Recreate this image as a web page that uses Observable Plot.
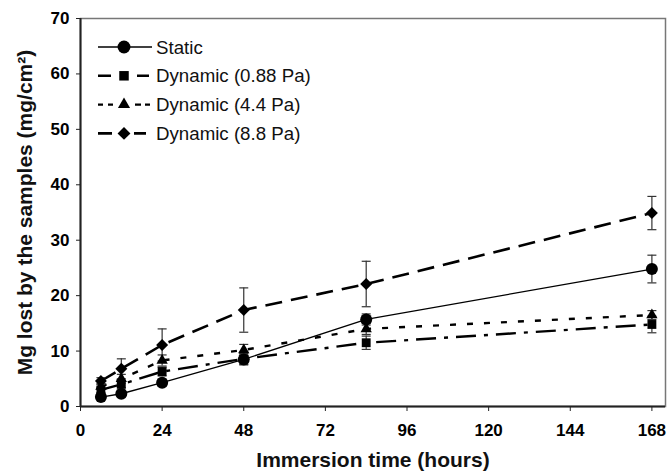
<!DOCTYPE html>
<html><head><meta charset="utf-8">
<script src="https://cdn.jsdelivr.net/npm/d3@7"></script>
<script src="https://cdn.jsdelivr.net/npm/@observablehq/plot@0.6"></script>
<style>body{margin:0;background:#fff} svg{display:block}</style>
</head><body><div id="chart"></div>
<script>
// ---- data ----
const hours = [6, 12, 24, 48, 84, 168];
const seriesNames = ["Static", "Dynamic (0.88 Pa)", "Dynamic (4.4 Pa)", "Dynamic (8.8 Pa)"];
const staticMg   = [1.7, 2.3, 4.3, 8.5, 15.7, 24.8];
const staticErr  = [0.5, 0.5, 0.6, 1.0, 1.0, 2.5];
const dyn088Mg   = [3.0, 4.0, 6.3, 8.6, 11.5, 14.8];
const dyn088Err  = [0.5, 0.6, 0.8, 1.0, 1.2, 1.5];
const dyn44Mg    = [3.6, 5.0, 8.3, 10.2, 14.0, 16.5];
const dyn44Err   = [0.5, 0.8, 1.0, 1.0, 1.0, 0.8];
const dyn88Mg    = [4.6, 6.8, 11.1, 17.4, 22.1, 34.9];
const dyn88Err   = [0.6, 1.8, 2.9, 4.0, 4.1, 3.0];
const xTicks = [0, 24, 48, 72, 96, 120, 144, 168];
const yTicks = [0, 10, 20, 30, 40, 50, 60, 70];
const xTitle = "Immersion time (hours)";
const yTitle = "Mg lost by the samples (mg/cm\u00B2)";

// ---- styles ----
const styles = [
  {symbol: "circle",   r: 6,   dash: null,        width: 1.3, legendDash: null},
  {symbol: "square",   r: 5,   dash: "20,8,4,8",  width: 2.4, legendDash: "13,26,12,100"},
  {symbol: "triangle", r: 4.2, dash: "6,11",      width: 2.4, legendDash: "5,5,5,22,6,4,5,100"},
  {symbol: "diamond2", r: 5.4, dash: "17,9",      width: 2.6, legendDash: "14,22,12,100"}
];

const values = [staticMg, dyn088Mg, dyn44Mg, dyn88Mg];
const errors = [staticErr, dyn088Err, dyn44Err, dyn88Err];
const rows = [];
seriesNames.forEach((s, i) => hours.forEach((h, j) => rows.push({series: s, idx: i, x: h, y: values[i][j], err: errors[i][j]})));

const capSymbol = {draw(ctx) { ctx.moveTo(-4.5, 0); ctx.lineTo(4.5, 0); }};

const marks = [];
seriesNames.forEach((s, i) => {
  const d = rows.filter(r => r.idx === i);
  marks.push(Plot.line(d, {x: "x", y: "y", stroke: "black", strokeWidth: styles[i].width,
    strokeDasharray: styles[i].dash || undefined, strokeLinecap: "butt"}));
});
marks.push(Plot.ruleX(rows, {x: "x", y1: d => d.y - d.err, y2: d => d.y + d.err, stroke: "#333", strokeWidth: 1.2}));
marks.push(Plot.dot(rows, {x: "x", y: d => d.y + d.err, symbol: capSymbol, stroke: "#333", strokeWidth: 1.2}));
marks.push(Plot.dot(rows, {x: "x", y: d => d.y - d.err, symbol: capSymbol, stroke: "#333", strokeWidth: 1.2}));
seriesNames.forEach((s, i) => {
  const d = rows.filter(r => r.idx === i);
  marks.push(Plot.dot(d, {x: "x", y: "y", symbol: styles[i].symbol, r: styles[i].r, fill: "black", stroke: "none"}));
});

const chart = Plot.plot({
  width: 667, height: 475,
  marginLeft: 80, marginRight: 2, marginTop: 18, marginBottom: 69,
  x: {domain: [0, 172]},
  y: {domain: [0, 70]},
  style: {fontFamily: "'Liberation Sans', Arial, sans-serif", fontWeight: "bold", background: "#fff", color: "black"},
  marks: [
    Plot.frame({stroke: "#777", strokeWidth: 1.5}),
    ...marks,
    Plot.ruleX([0], {stroke: "#222", strokeWidth: 2}),
    Plot.ruleY([0], {stroke: "#222", strokeWidth: 2}),
    Plot.axisX({ticks: xTicks, tickSize: 5, tickPadding: 12, fontSize: 17, label: null, stroke: "#222"}),
    Plot.axisY({ticks: yTicks, tickSize: 4, tickPadding: 7, fontSize: 17, label: null, stroke: "#222"}),
    Plot.text([xTitle], {text: d => d, frameAnchor: "bottom", textAnchor: "middle", dy: 60, fontSize: 21, fontWeight: "bold", fill: "#111"}),
    Plot.text([yTitle], {text: d => d, frameAnchor: "left", textAnchor: "middle", dx: -55, rotate: -90, fontSize: 21, fontWeight: "bold", fill: "#111"})
  ]
});
document.getElementById("chart").appendChild(chart);

// ---- legend (inside plot, top-left) ----
const svg = d3.select(chart);
const leg = svg.append("g").attr("font-family", "'Liberation Sans', Arial, sans-serif")
  .attr("font-weight", "normal").attr("text-anchor", "start");
const symMap = {circle: d3.symbolCircle, square: d3.symbolSquare, triangle: d3.symbolTriangle, diamond2: d3.symbolDiamond2};
seriesNames.forEach((s, i) => {
  const yy = 47 + i * 28.8;
  const g = leg.append("g").attr("transform", `translate(0,${yy})`);
  g.append("line").attr("x1", 98).attr("x2", 152).attr("y1", 0).attr("y2", 0)
    .attr("stroke", "black").attr("stroke-width", styles[i].width)
    .attr("stroke-dasharray", styles[i].legendDash);
  g.append("path").attr("transform", "translate(124,0)")
    .attr("d", d3.symbol(symMap[styles[i].symbol], Math.PI * styles[i].r * styles[i].r * 1.15)()).attr("fill", "black");
  g.append("text").attr("x", 156).attr("y", 6.5).attr("font-size", 18.7).attr("fill", "#111")
    .attr("text-anchor", "start").text(s);
});
</script>
</body></html>
